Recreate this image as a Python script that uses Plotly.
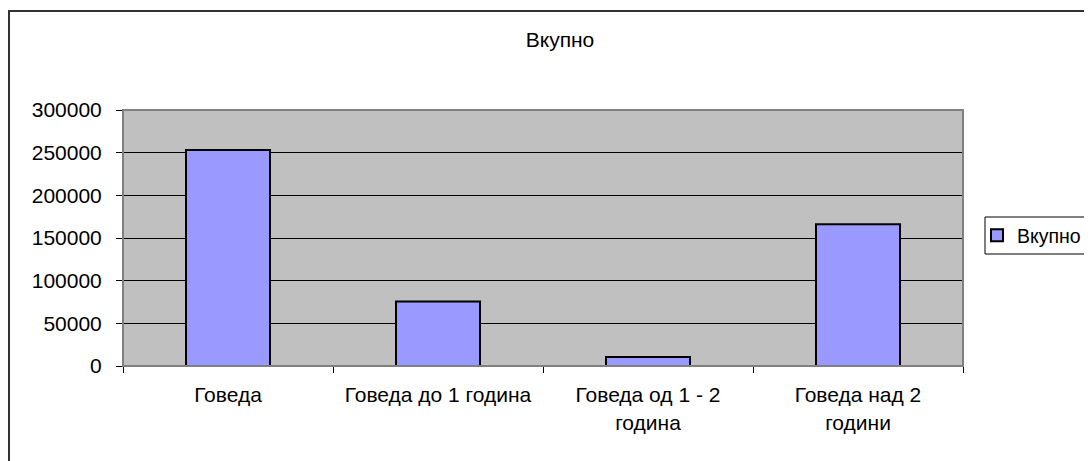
import plotly.graph_objects as go

categories = ["Говеда", "Говеда до 1 година", "Говеда од 1 - 2<br>година", "Говеда над 2<br>години"]
values = [253000, 75500, 10500, 166000]
series_name = "Вкупно"
title_text = "Вкупно"
y_ticks = [0, 50000, 100000, 150000, 200000, 250000, 300000]

FONT = "Liberation Sans, Arial, sans-serif"
FS = 21

# page is offset by the 8px default body margin
OFF = 8
W, H = 1092 - OFF, 461 - OFF
# target plot area in page pixels
L, R, T, B = 123, 963, 110, 366
pw, ph = R - L, B - T


def px(x):
    return (x - L) / pw


def py(y):
    return (B - y) / ph


fig = go.Figure()
fig.add_trace(go.Bar(
    x=categories, y=values, name=series_name,
    marker=dict(color="#9999FF", line=dict(color="black", width=2)),
    width=0.4, showlegend=True,
))

fig.update_layout(
    width=W, height=H,
    margin=dict(l=L - OFF, r=1092 - R, t=T - OFF, b=461 - B, pad=0, autoexpand=False),
    paper_bgcolor="white",
    plot_bgcolor="#C0C0C0",
    font=dict(family=FONT, size=FS, color="black"),
    title=dict(text=title_text, x=px(560), xref="paper", xanchor="center",
               y=1 - (40 - OFF) / H, yref="container", yanchor="middle",
               font=dict(family=FONT, size=FS, color="black")),
    showlegend=True,
    legend=dict(x=px(977), xanchor="left", y=py(235.5), yanchor="middle",
                bgcolor="rgba(0,0,0,0)", borderwidth=0,
                font=dict(family=FONT, size=19.5, color="black"),
                itemwidth=30, tracegroupgap=0),
    bargap=0.6,
    xaxis=dict(showgrid=False, showline=True, linecolor="black", linewidth=1,
               ticks="outside", ticklen=6, tickcolor="black", tickson="boundaries",
               ticklabelstandoff=10, zeroline=False, fixedrange=True, automargin=False),
    yaxis=dict(range=[0, 300000], tickvals=y_ticks, ticktext=[str(v) for v in y_ticks],
               showgrid=True, gridcolor="black", gridwidth=1,
               showline=True, linecolor="black", linewidth=1,
               ticks="outside", ticklen=6, tickcolor="black",
               ticklabelstandoff=10, zeroline=False, fixedrange=True, automargin=False),
)

# plot area border (gray)
fig.add_shape(type="rect", xref="paper", yref="paper", x0=0, x1=1, y0=0, y1=1,
              line=dict(color="#808080", width=2), fillcolor="rgba(0,0,0,0)", layer="above")
# legend box (cropped on the right)
fig.add_shape(type="rect", xref="paper", yref="paper",
              x0=px(985), x1=px(1110), y0=py(254), y1=py(217),
              line=dict(color="black", width=1), fillcolor="white", layer="below")
# outer chart frame (cropped on right/bottom)
fig.add_shape(type="rect", xref="paper", yref="paper",
              x0=px(9), x1=px(1200), y0=py(600), y1=py(11),
              line=dict(color="#333333", width=2), fillcolor="rgba(0,0,0,0)", layer="above")

fig.write_html("out.html")
